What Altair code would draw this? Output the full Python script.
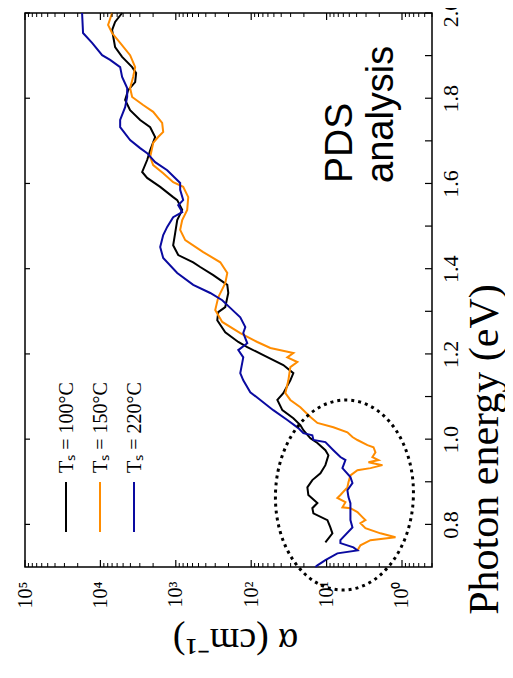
import altair as alt
import pandas as pd

# ---------------- data ----------------
series_names = ["T_s = 100°C", "T_s = 150°C", "T_s = 220°C"]
series_colors = ["#000000", "#FF8C00", "#0A0AA0"]
legend_labels = ["Tₛ = 100°C", "Tₛ = 150°C", "Tₛ = 220°C"]

energy_100 = [2.000, 1.979, 1.960, 1.920, 1.897, 1.873, 1.859, 1.838, 1.819, 1.796, 1.772, 1.749, 1.732,
              1.709, 1.678, 1.655, 1.627, 1.613, 1.592, 1.568, 1.561, 1.538, 1.514, 1.484, 1.455, 1.432,
              1.415, 1.404, 1.385, 1.362, 1.343, 1.310, 1.298, 1.279, 1.251, 1.228, 1.216, 1.197, 1.174,
              1.155, 1.138, 1.108, 1.092, 1.068, 1.049, 1.033, 1.021, 1.002, 0.991, 0.974, 0.962, 0.939,
              0.920, 0.904, 0.887, 0.869, 0.850, 0.838, 0.826, 0.810, 0.793, 0.779, 0.758]
log_alpha_100 = [3.712, 3.805, 3.845, 3.805, 3.712, 3.579, 3.526, 3.539, 3.632, 3.672, 3.606, 3.473, 3.340,
                 3.274, 3.340, 3.380, 3.446, 3.380, 3.207, 3.035, 2.981, 2.915, 2.981, 3.008, 3.035, 2.968,
                 2.769, 2.676, 2.503, 2.317, 2.304, 2.344, 2.437, 2.450, 2.344, 2.171, 2.052, 1.839, 1.574,
                 1.441, 1.481, 1.574, 1.653, 1.587, 1.441, 1.348, 1.308, 1.215, 1.122, 1.016, 0.976, 1.016,
                 1.082, 1.189, 1.255, 1.242, 1.122, 1.189, 1.175, 0.989, 0.950, 0.923, 1.016]

energy_150 = [2.000, 1.972, 1.953, 1.930, 1.901, 1.873, 1.850, 1.824, 1.803, 1.784, 1.768, 1.742, 1.721,
              1.709, 1.695, 1.662, 1.643, 1.624, 1.603, 1.592, 1.568, 1.538, 1.514, 1.491, 1.467, 1.439,
              1.415, 1.390, 1.366, 1.333, 1.303, 1.275, 1.249, 1.228, 1.214, 1.202, 1.192, 1.181, 1.169,
              1.138, 1.108, 1.092, 1.075, 1.052, 1.038, 1.028, 1.016, 1.005, 0.998, 0.986, 0.981, 0.969,
              0.958, 0.951, 0.946, 0.939, 0.932, 0.927, 0.915, 0.899, 0.887, 0.869, 0.862, 0.852, 0.840,
              0.838, 0.829, 0.817, 0.810, 0.803, 0.791, 0.779, 0.770, 0.763, 0.751, 0.739]
log_alpha_150 = [3.845, 3.898, 3.845, 3.738, 3.606, 3.539, 3.566, 3.606, 3.579, 3.433, 3.300, 3.181, 3.167,
                 3.234, 3.300, 3.340, 3.300, 3.167, 3.035, 2.902, 2.835, 2.849, 2.915, 2.942, 2.875, 2.636,
                 2.410, 2.317, 2.344, 2.437, 2.477, 2.384, 2.145, 1.919, 1.746, 1.441, 1.521, 1.388, 1.481,
                 1.507, 1.547, 1.481, 1.348, 1.215, 1.122, 0.910, 0.724, 0.657, 0.591, 0.458, 0.378, 0.352,
                 0.392, 0.312, 0.445, 0.259, 0.418, 0.591, 0.684, 0.710, 0.724, 0.817, 0.857, 0.750, 0.790,
                 0.684, 0.591, 0.525, 0.485, 0.551, 0.485, 0.286, 0.086, 0.418, 0.551, 0.591]

energy_220 = [2.000, 1.953, 1.930, 1.901, 1.890, 1.873, 1.850, 1.824, 1.803, 1.779, 1.749, 1.732, 1.702,
              1.683, 1.671, 1.650, 1.631, 1.601, 1.585, 1.561, 1.549, 1.533, 1.521, 1.498, 1.479, 1.451,
              1.425, 1.390, 1.362, 1.343, 1.326, 1.308, 1.286, 1.263, 1.249, 1.225, 1.209, 1.192, 1.155,
              1.138, 1.110, 1.092, 1.068, 1.045, 1.026, 1.014, 1.009, 0.998, 0.993, 0.974, 0.958, 0.951,
              0.932, 0.911, 0.897, 0.880, 0.864, 0.850, 0.826, 0.810, 0.793, 0.763, 0.756, 0.746, 0.739,
              0.732, 0.716, 0.704, 0.700]
log_alpha_220 = [4.243, 4.230, 4.110, 3.977, 3.871, 3.738, 3.712, 3.645, 3.645, 3.672, 3.738, 3.738, 3.606,
                 3.473, 3.380, 3.274, 3.114, 2.942, 2.942, 2.902, 2.968, 2.915, 3.035, 3.114, 3.167, 3.207,
                 3.167, 2.981, 2.769, 2.543, 2.384, 2.278, 2.145, 2.078, 2.105, 2.052, 2.171, 2.105, 2.145,
                 2.105, 2.012, 1.879, 1.707, 1.521, 1.375, 1.308, 1.189, 1.175, 1.016, 0.910, 0.817, 0.750,
                 0.790, 0.684, 0.657, 0.724, 0.710, 0.684, 0.684, 0.684, 0.657, 0.817, 0.817, 0.644, 0.591,
                 0.857, 1.016, 1.122, 1.149]

# tick values
x_major_ticks = [1, 10, 100, 1000, 10000, 100000]
x_minor_ticks = [m * 10 ** k for k in range(-1, 5) for m in range(2, 10) if m * 10 ** k >= 0.4]
y_label_ticks = [0.8, 1.0, 1.2, 1.4, 1.6, 1.8, 2.0]
y_right_ticks = [0.8, 0.9, 1.0, 1.1, 1.2, 1.3, 1.4, 1.5, 1.6, 1.7, 1.8, 1.9, 2.0]

# dotted ellipse annotation (centre)
ellipse_alpha = [5.8]
ellipse_energy = [0.869]

# ---------------- build ----------------
frames = []
for name, E, la in [(series_names[0], energy_100, log_alpha_100),
                    (series_names[1], energy_150, log_alpha_150),
                    (series_names[2], energy_220, log_alpha_220)]:
    assert len(E) == len(la)
    frames.append(pd.DataFrame({"series": name, "energy": E,
                                "alpha": [10 ** v for v in la], "idx": list(range(len(E)))}))
df = pd.concat(frames, ignore_index=True)

W, H = 407, 554
SERIF = "Liberation Serif"
SANS = "Liberation Sans"

xscale = alt.Scale(type="log", domain=[0.4, 100000], reverse=True, nice=False)
yscale = alt.Scale(domain=[0.7, 2.0], nice=False, zero=False)

label_expr = "{'1':'10⁰','10':'10¹','100':'10²','1000':'10³','10000':'10⁴','100000':'10⁵'}[format(datum.value,'d')]"

lines = alt.Chart(df).mark_line(strokeWidth=2).encode(
    x=alt.X("alpha:Q", scale=xscale,
            axis=alt.Axis(values=x_major_ticks, labelExpr=label_expr, labelAngle=270,
                          labelAlign="right", labelBaseline="middle", labelPadding=14,
                          labelFontSize=20, title="α (cm⁻¹)", titleAngle=180, titleFontSize=38,
                          titleX=210, titleY=61, titleAlign="center", titleBaseline="alphabetic")),
    y=alt.Y("energy:Q", scale=yscale,
            axis=alt.Axis(orient="right", values=y_label_ticks, format=".1f", labelAngle=270,
                          labelAlign="center", labelBaseline="top", labelPadding=8,
                          labelFontSize=22, title="Photon energy (eV)", titleAngle=270,
                          titleFontSize=42, titleX=65, titleY=436, titleAlign="center",
                          titleBaseline="alphabetic")),
    color=alt.Color("series:N", scale=alt.Scale(domain=series_names, range=series_colors), legend=None),
    detail="series:N",
    order="idx:Q",
)

def xticks(vals, y0, y1, w=1.2):
    return alt.Chart(pd.DataFrame({"alpha": vals})).mark_rule(color="black", strokeWidth=w).encode(
        x=alt.X("alpha:Q", scale=xscale), y=alt.value(y0), y2=alt.value(y1))

def yticks(vals, x0, x1, w=1.2):
    return alt.Chart(pd.DataFrame({"energy": vals})).mark_rule(color="black", strokeWidth=w).encode(
        y=alt.Y("energy:Q", scale=yscale), x=alt.value(x0), x2=alt.value(x1))

tick_layers = [
    xticks(x_major_ticks, H, H - 7),
    xticks(x_minor_ticks, H, H - 4, 1),
    xticks(x_major_ticks, 0, 7),
    xticks(x_minor_ticks, 0, 4, 1),
    yticks(y_right_ticks, W, W - 7),
    yticks(y_label_ticks, 0, 5),
]

ellipse = alt.Chart(pd.DataFrame({"alpha": ellipse_alpha, "energy": ellipse_energy})).mark_point(
    shape="M -0.726 0 A 0.726 1 0 1 1 0.726 0 A 0.726 1 0 1 1 -0.726 0 Z",
    size=36100, filled=False, color="black", strokeWidth=3, strokeDash=[3, 4], angle=2, opacity=1,
).encode(x=alt.X("alpha:Q", scale=xscale), y=alt.Y("energy:Q", scale=yscale))

def label(text, x, y, size, font):
    return alt.Chart(pd.DataFrame({"t": [text]})).mark_text(
        angle=270, align="left", baseline="alphabetic", fontSize=size, font=font, color="black"
    ).encode(x=alt.value(x), y=alt.value(y), text="t:N")

texts = [label("PDS", 327, 170, 39, SANS), label("analysis", 368, 170, 38, SANS)]

legend_layers = []
for i, (lab, col) in enumerate(zip(legend_labels, series_colors)):
    lx = 41 + 34 * i
    legend_layers.append(
        alt.Chart(pd.DataFrame({"t": [lab]})).mark_rule(color=col, strokeWidth=2).encode(
            x=alt.value(lx), y=alt.value(469), y2=alt.value(519)))
    legend_layers.append(label(lab, lx + 7, 460, 20, SERIF))

chart = alt.layer(lines, *tick_layers, ellipse, *texts, *legend_layers).properties(
    width=W, height=H,
    autosize=alt.AutoSizeParams(type="none"),
    padding={"left": 17, "top": 5, "right": 73, "bottom": 103},
).configure_view(stroke="black", strokeWidth=1.5).configure_axis(
    grid=False, ticks=False, domain=False, labelFont=SERIF, titleFont=SERIF,
    titleFontWeight="normal", labelColor="black", titleColor="black",
)

chart.save("out.html", embed_options={"renderer": "svg", "actions": False})
